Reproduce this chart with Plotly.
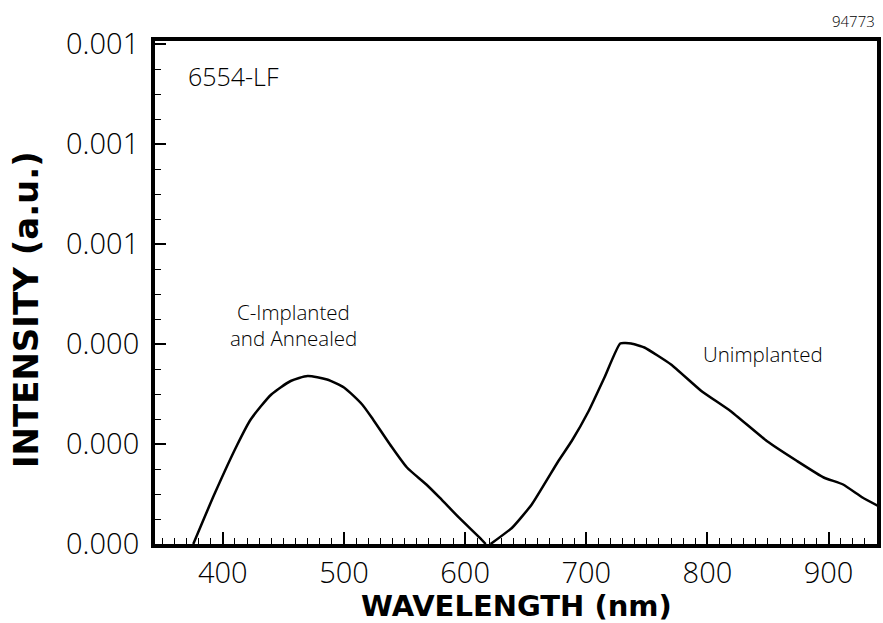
import plotly.graph_objects as go

# C-Implanted and Annealed spectrum
c_wl = [375.6, 393, 412, 423, 440, 456, 470, 486, 500, 515, 524, 538, 552, 568, 579, 595, 612, 617]
c_int = [0, 0.0000994, 0.000199, 0.000249, 0.000299, 0.000326, 0.000336, 0.000329, 0.000313,
         0.000279, 0.000249, 0.000199, 0.000153, 0.000119, 0.0000926, 0.0000526, 0.0000126, 0]

# Unimplanted spectrum
u_wl = [621, 639, 655, 677, 688, 702, 715, 728, 737, 748, 770, 795, 819, 849, 874, 896, 912, 928, 941]
u_int = [0, 0.000033, 0.000079, 0.000166, 0.000206, 0.000266, 0.000333, 0.000401, 0.000401,
         0.000393, 0.000359, 0.000306, 0.000266, 0.000206, 0.000166, 0.000133, 0.000119,
         0.000093, 0.000076]

x_ticks = [400, 500, 600, 700, 800, 900]
y_ticks = [0, 0.0002, 0.0004, 0.0006, 0.0008, 0.001]

LIGHT = "Open Sans"
BOLD = "DejaVu Sans"

fig = go.Figure()
fig.add_trace(go.Scatter(x=c_wl, y=c_int, mode="lines",
                         line=dict(color="black", width=2.5, shape="spline", smoothing=0.6),
                         showlegend=False))
fig.add_trace(go.Scatter(x=u_wl, y=u_int, mode="lines",
                         line=dict(color="black", width=2.5, shape="spline", smoothing=0.4),
                         showlegend=False))

fig.update_layout(
    width=883, height=623,
    margin=dict(l=155, r=2, t=41, b=79),
    paper_bgcolor="white", plot_bgcolor="white",
    xaxis=dict(
        range=[344, 940], tickvals=x_ticks, ticks="inside", ticklen=12, tickwidth=1.5,
        tickcolor="black", showline=True, linecolor="black", linewidth=4, mirror=True,
        showgrid=False, zeroline=False,
        tickfont=dict(family=LIGHT, size=29, color="black", weight=300),
        minor=dict(dtick=10, tick0=0, ticks="inside", ticklen=6, tickwidth=1.2, tickcolor="black",
                   showgrid=False),
    ),
    yaxis=dict(
        range=[0, 0.001006], tickvals=y_ticks, tickformat=".3f", ticks="inside", ticklen=11,
        tickwidth=1.5, tickcolor="black", showline=True, linecolor="black", linewidth=4,
        mirror=True, showgrid=False, zeroline=False, ticklabelstandoff=6,
        tickfont=dict(family=LIGHT, size=29, color="black", weight=300),
        minor=dict(dtick=0.00005, tick0=0, ticks="inside", ticklen=6, tickwidth=1.2,
                   tickcolor="black", showgrid=False),
    ),
)

# axis titles placed as annotations
fig.add_annotation(x=0.5, y=0, xref="paper", yref="paper", xanchor="center", yanchor="middle",
                   yshift=-62, text="WAVELENGTH (nm)", showarrow=False,
                   font=dict(family=BOLD, size=29, color="black", weight="bold"))
fig.add_annotation(x=0, y=0.465, xref="paper", yref="paper", xanchor="center", yanchor="middle",
                   xshift=-129, text="INTENSITY (a.u.)", textangle=-90, showarrow=False,
                   font=dict(family=BOLD, size=34, color="black", weight="bold"))

ann_font = dict(family=LIGHT, size=20.5, color="black", weight=300)
fig.add_annotation(x=408.6, y=0.000936, text="6554-LF", showarrow=False,
                   font=dict(family=LIGHT, size=25, color="black", weight=300))
fig.add_annotation(x=458.6, y=0.000464, text="C-Implanted", showarrow=False, font=ann_font)
fig.add_annotation(x=458.6, y=0.000413, text="and Annealed", showarrow=False, font=ann_font)
fig.add_annotation(x=846, y=0.000381, text="Unimplanted", showarrow=False, font=ann_font)
fig.add_annotation(x=1.0, y=1.0, xref="paper", yref="paper", xanchor="right", yanchor="bottom",
                   yshift=8, text="94773", showarrow=False,
                   font=dict(family=LIGHT, size=15, color="black", weight=300))

fig.write_html("out.html", config={"displayModeBar": False},
               post_script="document.body.style.margin='0';document.body.style.overflow='hidden';")
